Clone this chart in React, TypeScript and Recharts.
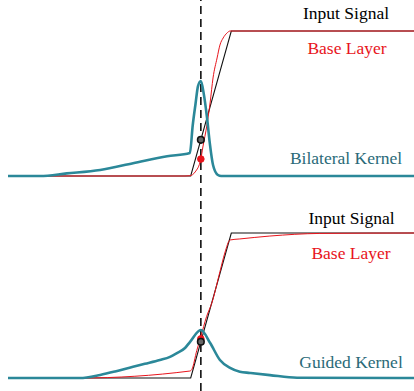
import { LineChart, Line, XAxis, YAxis, ReferenceLine, ReferenceDot } from 'recharts';

// x: sample position (0..100), y: normalised signal level
const inputSignal = [
  { x: 0, y: 0 },
  { x: 45, y: 0 },
  { x: 55, y: 1 },
  { x: 100, y: 1 },
];

const bilateralBase = [
  { x: 0, y: 0 },
  { x: 43.6, y: 0 },
  { x: 44.8, y: 0.002 },
  { x: 46.1, y: 0.028 },
  { x: 47.5, y: 0.117 },
  { x: 48, y: 0.2 },
  { x: 49, y: 0.352 },
  { x: 49.8, y: 0.51 },
  { x: 50.5, y: 0.676 },
  { x: 51.5, y: 0.814 },
  { x: 52.2, y: 0.903 },
  { x: 53, y: 0.952 },
  { x: 53.9, y: 0.985 },
  { x: 54.7, y: 1 },
  { x: 100, y: 1 },
];

const bilateralKernel = [
  { x: 0, y: 0 },
  { x: 7.9, y: 0 },
  { x: 14.5, y: 0.018 },
  { x: 22.7, y: 0.042 },
  { x: 30.8, y: 0.088 },
  { x: 39.2, y: 0.136 },
  { x: 44.8, y: 0.159 },
  { x: 45.5, y: 0.35 },
  { x: 46.2, y: 0.5 },
  { x: 46.8, y: 0.62 },
  { x: 47.5, y: 0.655 },
  { x: 48.2, y: 0.57 },
  { x: 49, y: 0.407 },
  { x: 49.7, y: 0.228 },
  { x: 50.5, y: 0.076 },
  { x: 51.7, y: 0.007 },
  { x: 52.5, y: 0 },
  { x: 100, y: 0 },
];

const guidedBase = [
  { x: 0, y: 0 },
  { x: 17.7, y: 0 },
  { x: 44.8, y: 0.048 },
  { x: 45.3, y: 0.06 },
  { x: 46.5, y: 0.19 },
  { x: 47.5, y: 0.285 },
  { x: 48.9, y: 0.423 },
  { x: 50.2, y: 0.517 },
  { x: 52.2, y: 0.733 },
  { x: 53.4, y: 0.862 },
  { x: 54.7, y: 0.952 },
  { x: 57.1, y: 0.959 },
  { x: 64.5, y: 0.979 },
  { x: 76.8, y: 0.997 },
  { x: 100, y: 1 },
];

const guidedKernel = [
  { x: 0, y: 0 },
  { x: 17.7, y: 0 },
  { x: 22.7, y: 0.021 },
  { x: 26.4, y: 0.045 },
  { x: 30.8, y: 0.078 },
  { x: 33.7, y: 0.098 },
  { x: 37.4, y: 0.124 },
  { x: 39.9, y: 0.146 },
  { x: 41.6, y: 0.172 },
  { x: 43.6, y: 0.207 },
  { x: 44.8, y: 0.248 },
  { x: 47.5, y: 0.331 },
  { x: 49.8, y: 0.241 },
  { x: 52.2, y: 0.124 },
  { x: 54.7, y: 0.069 },
  { x: 57.1, y: 0.043 },
  { x: 59.6, y: 0.035 },
  { x: 64.5, y: 0.02 },
  { x: 71.2, y: 0.002 },
  { x: 100, y: 0 },
];

const probeX = 47.5;
const topProbe = { input: 0.25, base: 0.117 };
const bottomProbe = { input: 0.25, base: 0.27 };

const topLabels = ['Input Signal', 'Base Layer', 'Bilateral Kernel'];
const bottomLabels = ['Input Signal', 'Base Layer', 'Guided Kernel'];

const BLACK = '#111111';
const RED = '#e8141c';
const TEAL = '#2b8899';
const TEAL_TEXT = '#2a6a78';
const FONT = '"Liberation Serif", "Times New Roman", serif';

interface PanelProps {
  base: { x: number; y: number }[];
  kernel: { x: number; y: number }[];
  probe: { input: number; base: number };
  height: number;
  domain: [number, number];
}

function Panel({ base, kernel, probe, height, domain }: PanelProps) {
  return (
    <LineChart width={414} height={height} margin={{ top: 0, right: 0, bottom: 0, left: 8 }}>
      <XAxis type="number" dataKey="x" domain={[0, 100]} hide />
      <YAxis type="number" domain={domain} hide allowDataOverflow />
      <ReferenceLine x={probeX} stroke={BLACK} strokeDasharray="8 5" strokeWidth={1.6} />
      <Line data={inputSignal} dataKey="y" type="linear" stroke={BLACK} strokeWidth={1.1} dot={false} isAnimationActive={false} />
      <Line data={base} dataKey="y" type="monotone" stroke={RED} strokeWidth={1} dot={false} isAnimationActive={false} />
      <Line data={kernel} dataKey="y" type="monotone" stroke={TEAL} strokeWidth={2.6} dot={false} isAnimationActive={false} />
      <ReferenceDot x={probeX} y={probe.base} r={3.3} fill={RED} stroke={RED} strokeWidth={1} />
      <ReferenceDot x={probeX} y={probe.input} r={3.3} fill="#666666" stroke={BLACK} strokeWidth={1.6} />
    </LineChart>
  );
}

function Text({ children, cx, baseline, color }: { children: string; cx: number; baseline: number; color: string }) {
  return (
    <div
      style={{
        position: 'absolute',
        left: cx,
        top: baseline - 14.6,
        transform: 'translateX(-50%)',
        fontFamily: FONT,
        fontSize: 17.5,
        lineHeight: '17.5px',
        whiteSpace: 'nowrap',
        color,
      }}
    >
      {children}
    </div>
  );
}

export default function App() {
  return (
    <div style={{ position: 'absolute', left: 0, top: 0, width: 414, height: 391, background: '#fff' }}>
      <div style={{ position: 'absolute', left: 0, top: 0 }}>
        <Panel
          base={bilateralBase}
          kernel={bilateralKernel}
          probe={topProbe}
          height={196}
          domain={[-20 / 145, 176 / 145]}
        />
      </div>
      <div style={{ position: 'absolute', left: 0, top: 196 }}>
        <Panel
          base={guidedBase}
          kernel={guidedKernel}
          probe={bottomProbe}
          height={195}
          domain={[-13 / 145, 182 / 145]}
        />
      </div>
      <Text cx={346} baseline={19.5} color="#000">{topLabels[0]}</Text>
      <Text cx={347} baseline={55} color={RED}>{topLabels[1]}</Text>
      <Text cx={346} baseline={164.5} color={TEAL_TEXT}>{topLabels[2]}</Text>
      <Text cx={351.5} baseline={225} color="#000">{bottomLabels[0]}</Text>
      <Text cx={351} baseline={260} color={RED}>{bottomLabels[1]}</Text>
      <Text cx={351} baseline={369} color={TEAL_TEXT}>{bottomLabels[2]}</Text>
    </div>
  );
}
